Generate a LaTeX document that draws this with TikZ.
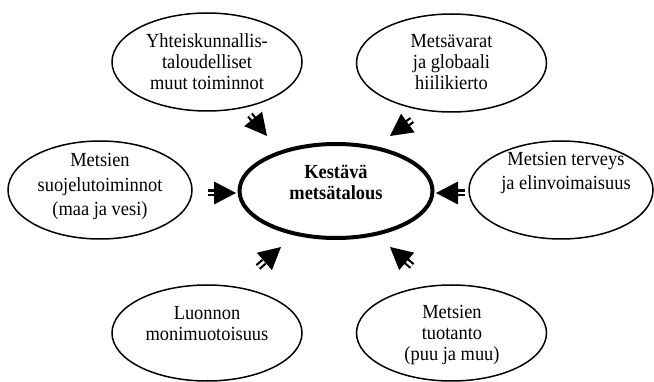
\documentclass[tikz,border=0pt]{standalone}
\usepackage{fontspec}
\setmainfont[FakeStretch=0.92]{Liberation Serif}
\usetikzlibrary{shapes.geometric,calc}
\tikzset{
  bubble/.style={draw, ellipse, line width=1.5pt, inner sep=0pt, outer sep=0pt},
  mainbubble/.style={draw, ellipse, line width=4pt, inner sep=0pt, outer sep=0pt},
  txt/.style={align=center, inner sep=0pt, font=\fontsize{20}{21}\selectfont},
  wtxt/.style={align=center, inner sep=0pt, font=\fontsize{20}{24.5}\selectfont},
  stub/.style={draw=black, double=white, double distance=2.6pt, line width=2.2pt},
  headfill/.style={fill=black, draw=none}
}
\newcommand\farrow[2]{%
  \draw[stub] (#1) -- ($(#1)!8pt!(#2)$);
  \fill[headfill] (#2) -- ($($(#2)!22pt!(#1)$)!11.5pt!90:(#2)$) -- ($($(#2)!22pt!(#1)$)!11.5pt!-90:(#2)$) -- cycle;
}
\begin{document}
\begin{tikzpicture}[x=1pt,y=-1pt]
\useasboundingbox (0,0) rectangle (654,382);
% bubbles
\node[mainbubble, minimum width=193pt, minimum height=94pt] (c) at (336,191) {};
\node[bubble, minimum width=190pt, minimum height=98pt] (tl) at (207,62) {};
\node[bubble, minimum width=190pt, minimum height=98pt] (tr) at (451.5,63) {};
\node[bubble, minimum width=184pt, minimum height=98pt] (ml) at (100,190) {};
\node[bubble, minimum width=184pt, minimum height=98pt] (mr) at (561,190) {};
\node[bubble, minimum width=190pt, minimum height=96pt] (bl) at (207,333) {};
\node[bubble, minimum width=190pt, minimum height=96pt] (br) at (451.5,333) {};
% texts
\node[txt] (ct) at (336,182) {\bfseries Kestävä\\\bfseries metsätalous};
\node[txt] (tlt) at (207,62) {Yhteiskunnallis-\\taloudelliset\\muut toiminnot};
\node[txt] (trt) at (451.5,62) {Metsävarat\\ja globaali\\hiilikierto};
\node[wtxt] (mlt) at (100,187) {Metsien\\suojelutoiminnot\\(maa ja vesi)};
\node[wtxt] (mrt) at (566,173) {Metsien terveys\\ja elinvoimaisuus};
\node[txt] (blt) at (207,323.5) {Luonnon\\monimuotoisuus};
\node[txt] (brt) at (452,335) {Metsien\\tuotanto\\(puu ja muu)};
% arrows
\coordinate (a1s) at (250,115); \coordinate (a1e) at (267,136);
\coordinate (a2s) at (412,120); \coordinate (a2e) at (390,136);
\coordinate (a3s) at (208,193); \coordinate (a3e) at (236,193);
\coordinate (a4s) at (465,193); \coordinate (a4e) at (436,193);
\coordinate (a5s) at (258,267); \coordinate (a5e) at (281,247);
\coordinate (a6s) at (412,266); \coordinate (a6e) at (390,247);
\farrow{a1s}{a1e}
\farrow{a2s}{a2e}
\farrow{a3s}{a3e}
\farrow{a4s}{a4e}
\farrow{a5s}{a5e}
\farrow{a6s}{a6e}
\end{tikzpicture}
\end{document}
